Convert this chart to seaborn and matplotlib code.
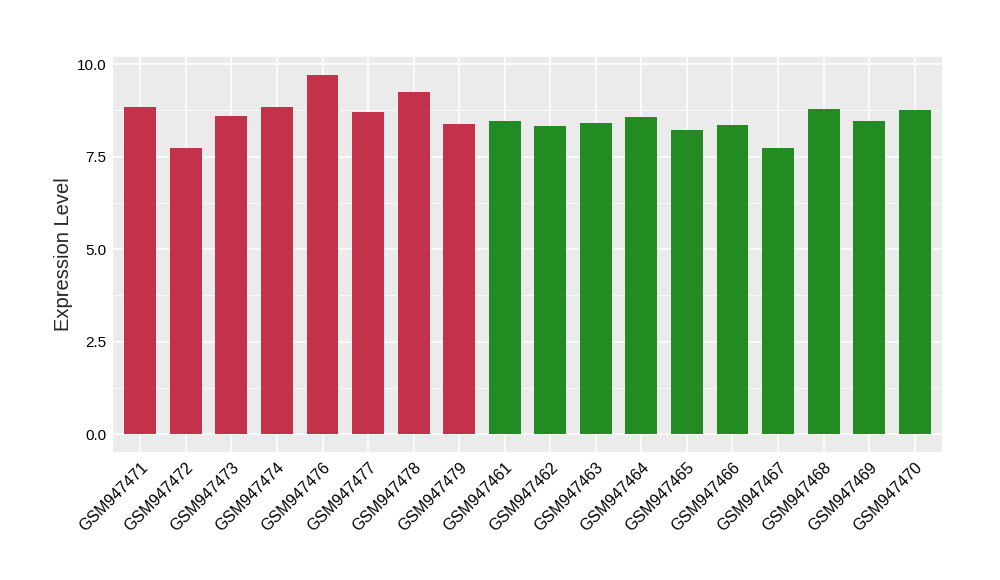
import pandas as pd
import matplotlib
matplotlib.use("Agg")
import matplotlib.pyplot as plt
import seaborn as sns
from matplotlib.ticker import MultipleLocator

# sample ids and expression values
samples = ["GSM947471", "GSM947472", "GSM947473", "GSM947474", "GSM947476",
           "GSM947477", "GSM947478", "GSM947479", "GSM947461", "GSM947462",
           "GSM947463", "GSM947464", "GSM947465", "GSM947466", "GSM947467",
           "GSM947468", "GSM947469", "GSM947470"]
expression = [8.83, 7.72, 8.59, 8.83, 9.70, 8.70, 9.24, 8.37, 8.45, 8.32,
              8.40, 8.56, 8.21, 8.34, 7.74, 8.78, 8.45, 8.75]
groups = ["case"] * 8 + ["control"] * 10
colors = {"case": "#C3324A", "control": "#228B22"}

df = pd.DataFrame({"sample": samples, "expr": expression, "group": groups})

sns.set_style("whitegrid")
plt.rcParams["font.family"] = ["Liberation Sans", "DejaVu Sans"]

fig = plt.figure(figsize=(10, 5.8), dpi=100)
ax = fig.add_axes([0.113, 0.2207, 0.829, 0.681])

sns.barplot(data=df, x="sample", y="expr", hue="group", palette=colors,
            dodge=False, width=0.7, legend=False, ax=ax, saturation=1,
            linewidth=0, edgecolor="none")

ax.set_facecolor("#EBEBEB")
for s in ax.spines.values():
    s.set_visible(False)
ax.set_xlim(-0.6, len(samples) - 0.4)
ax.set_ylim(-0.485, 10.19)
ax.yaxis.set_major_locator(MultipleLocator(2.5))
ax.yaxis.set_minor_locator(MultipleLocator(1.25))
ax.grid(which="major", color="white", linewidth=1.1)
ax.grid(which="minor", axis="y", color="white", linewidth=0.55)
ax.set_axisbelow(True)
ax.set_yticks([0, 2.5, 5, 7.5, 10])
ax.set_yticklabels(["0.0", "2.5", "5.0", "7.5", "10.0"])
ax.tick_params(axis="both", which="major", length=3.5, width=0.8, color="#333333",
               labelsize=11.5, labelcolor="black", pad=2)
ax.tick_params(axis="y", which="major", labelsize=11, pad=1)
ax.tick_params(axis="y", which="minor", length=0)
plt.setp(ax.get_xticklabels(), rotation=45, ha="right", rotation_mode="anchor")
ax.set_xlabel("")
ax.set_ylabel("Expression Level", fontsize=14.5, labelpad=3)

fig.savefig("out.png", dpi=100)
